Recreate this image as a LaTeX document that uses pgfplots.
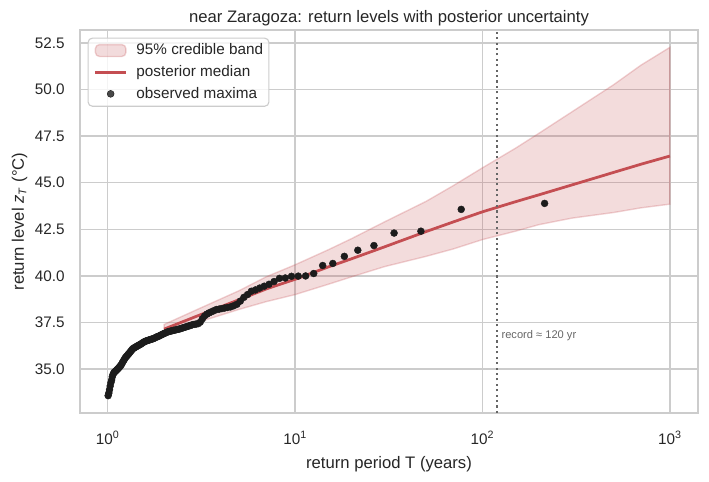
\documentclass[border=0pt]{standalone}
\usepackage{fontspec}
\setmainfont{Liberation Sans}
\usepackage{pgfplots}
\usepackage{pgfplotstable}
\pgfplotsset{compat=1.18}

\definecolor{bandred}{HTML}{C44E52}
\definecolor{gridgray}{HTML}{CCCCCC}
\definecolor{ink}{HTML}{262626}
\definecolor{dotblack}{HTML}{1C1C1C}
\definecolor{refgray}{HTML}{666666}

\pgfplotsset{
  legend band/.style={legend image code/.code={\draw[##1] (0pt,-4.3pt) rectangle (22pt,4.3pt);}},
  legend line/.style={legend image code/.code={\draw[##1] (0pt,0pt) -- (22pt,0pt);}},
  legend dot/.style={legend image code/.code={\draw[##1, mark repeat=2, mark phase=2] plot coordinates {(0pt,0pt) (11pt,0pt) (22pt,0pt)};}},
}

% annual maxima with their plotting-position return periods
\pgfplotstableread{
T z
214.5 43.89
77.00 43.57
46.92 42.40
33.74 42.30
26.34 41.63
21.60 41.38
18.31 41.05
15.89 40.67
14.03 40.56
12.565 40.13
11.375 40.00
10.391 39.99
9.564 39.98
8.858 39.89
8.250 39.87
7.720 39.70
7.254 39.55
6.840 39.45
6.472 39.35
6.141 39.25
5.842 39.18
5.571 39.00
5.324 38.85
5.098 38.65
4.891 38.48
4.700 38.40
4.523 38.34
4.358 38.31
4.206 38.28
4.064 38.25
3.931 38.22
3.806 38.20
3.689 38.14
3.579 38.08
3.476 38.02
3.378 37.95
3.286 37.85
3.198 37.70
3.115 37.52
3.036 37.44
2.962 37.42
2.890 37.40
2.822 37.38
2.758 37.34
2.696 37.31
2.637 37.28
2.580 37.25
2.526 37.22
2.474 37.19
2.424 37.16
2.376 37.14
2.330 37.12
2.285 37.10
2.243 37.08
2.202 37.06
2.162 37.04
2.124 37.02
2.087 37.00
2.051 36.96
2.017 36.93
1.983 36.90
1.951 36.86
1.920 36.83
1.890 36.79
1.861 36.76
1.832 36.74
1.805 36.70
1.778 36.67
1.752 36.64
1.727 36.62
1.702 36.60
1.679 36.58
1.655 36.56
1.633 36.54
1.611 36.52
1.590 36.50
1.569 36.47
1.549 36.44
1.529 36.40
1.510 36.36
1.491 36.33
1.473 36.30
1.455 36.27
1.4375 36.24
1.4205 36.21
1.4039 36.18
1.3877 36.15
1.3719 36.12
1.3564 36.08
1.3412 36.02
1.3264 35.96
1.3119 35.90
1.2978 35.84
1.2839 35.79
1.2703 35.73
1.2570 35.68
1.2440 35.63
1.2313 35.56
1.2188 35.48
1.2065 35.41
1.1945 35.33
1.1828 35.25
1.1712 35.19
1.1599 35.14
1.1488 35.09
1.1379 35.04
1.1273 35.00
1.1168 34.96
1.1065 34.92
1.0964 34.88
1.0865 34.85
1.0767 34.80
1.0672 34.72
1.0578 34.60
1.0485 34.42
1.0395 34.28
1.0305 34.10
1.0218 33.90
1.0132 33.72
1.0047 33.58
}\maxima

% posterior median return level
\pgfplotstableread{
T med
2 37.15
3 37.85
5 38.72
7 39.30
10 39.82
15 40.48
20 40.92
30 41.56
50 42.38
70 42.90
100 43.44
150 43.98
200 44.35
300 44.88
500 45.55
700 45.99
1000 46.43
}\median

\begin{document}
\begin{tikzpicture}
\begin{axis}[
  scale only axis,
  width=444.96pt, height=275.76pt,
  xmode=log,
  xmin=0.711, xmax=1413,
  ymin=32.65, ymax=53.19,
  xtick={1,10,100,1000},
  xticklabels={10\textsuperscript{0},10\textsuperscript{1},10\textsuperscript{2},10\textsuperscript{3}},
  ytick={35,37.5,40,42.5,45,47.5,50,52.5},
  /pgf/number format/assume math mode=true,
  yticklabel={\pgfmathprintnumber[fixed,fixed zerofill,precision=1]{\tick}},
  tick style={draw=none}, minor tick style={draw=none},
  grid=major,
  major grid style={draw=gridgray, line width=1pt},
  axis line style={draw=gridgray, line width=1.25pt},
  ticklabel style={font=\fontsize{11}{13}\selectfont, text=ink},
  xticklabel style={anchor=north, inner sep=0pt, yshift=-13pt},
  yticklabel style={anchor=east, inner sep=0pt, xshift=-10.8pt},
  xlabel={return period T (years)},
  ylabel={return level \textit{z}\textsubscript{\textit{T}} (°C)},
  label style={font=\fontsize{12}{14}\selectfont, text=ink},
  xlabel style={at={(axis description cs:0.5,-0.145)}, anchor=base},
  ylabel style={at={(axis description cs:-0.091,0.5)}, anchor=base},
  title={near Zaragoza: return levels with posterior uncertainty},
  every axis title shift=0pt,
  title style={font=\fontsize{12}{14}\selectfont, text=ink,
    at={(axis description cs:0.5,1)}, anchor=base, yshift=5.3pt},
  legend cell align=left,
  legend style={at={(axis description cs:0.0123,0.9801)}, anchor=north west,
    draw=gridgray, line width=0.8pt, rounded corners=3pt,
    fill=white, fill opacity=0.8, text opacity=1,
    font=\fontsize{11}{13}\selectfont, text=ink,
    inner xsep=4.2pt, inner ysep=3.4pt, row sep=4.6pt,
    nodes={inner sep=0pt, text height=8.5pt, text depth=2.5pt},
    /tikz/every odd column/.append style={column sep=6.6pt}},
]

% 95% credible band
\addplot[fill=bandred, fill opacity=0.2, draw=bandred, draw opacity=0.25, line width=1pt, legend band]
  coordinates {
  (2,37.40) (3,38.20) (5,39.20) (7,39.95) (10,40.60) (15,41.40) (20,42.00)
  (30,42.90) (50,44.00) (70,44.85) (100,45.80) (150,46.85) (200,47.65)
  (300,48.80) (500,50.25) (700,51.30) (1000,52.26)
  (1000,43.85) (700,43.65) (500,43.40) (300,43.10) (200,42.75) (150,42.40)
  (100,41.95) (70,41.45) (50,41.05) (30,40.50) (20,39.95) (15,39.55)
  (10,39.00) (7,38.62) (5,38.20) (3,37.50) (2,36.90)
  } -- cycle;
\addlegendentry{95\% credible band}

\addplot[bandred, line width=2pt, legend line]
  table[x=T, y=med] {\median};
\addlegendentry{posterior median}

\addplot[only marks, mark=*, mark size=2.5pt, mark options={fill=dotblack, draw=dotblack, line width=0.3pt}, legend dot]
  table[x=T, y=z] {\maxima};
\addlegendentry{observed maxima}

% length of the record
\addplot[refgray, line width=1.5pt, dash pattern=on 1.5pt off 2.4pt, forget plot]
  coordinates {(120,32.65) (120,53.19)};
\node[anchor=west, inner sep=0pt, text=refgray, font=\fontsize{8}{9.6}\selectfont]
  at (axis cs:126,36.82) {record ≈ 120 yr};

\end{axis}
\pgfresetboundingbox
\path[use as bounding box] ([shift={(-57.6pt,-49.68pt)}]current axis.south west)
  rectangle ([shift={(7.92pt,21.6pt)}]current axis.north east);
\end{tikzpicture}
\end{document}
